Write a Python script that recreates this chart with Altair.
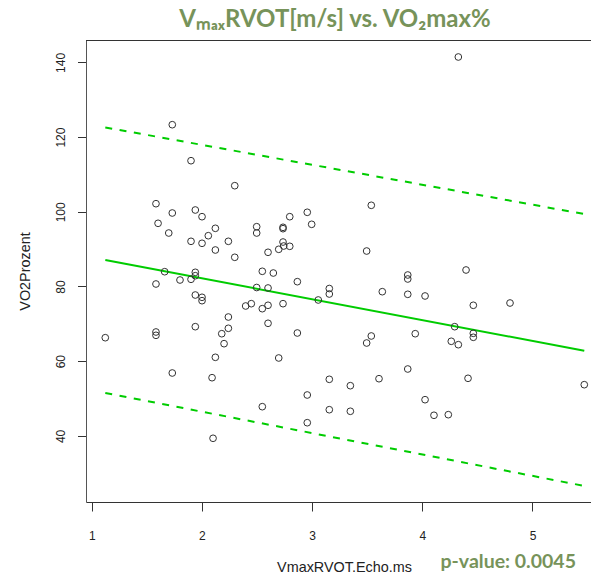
import altair as alt
import pandas as pd

# ---- data ----
vmax = [1.123, 1.583, 1.602, 1.583, 1.583, 1.583, 1.662, 1.699, 1.731, 1.731,
        1.731, 1.801, 1.901, 1.901, 1.901, 1.940, 1.940, 1.940, 1.940, 1.940,
        2.001, 2.001, 2.001, 2.001, 2.058, 2.092, 2.101, 2.122, 2.122, 2.122,
        2.180, 2.201, 2.240, 2.240, 2.240, 2.298, 2.298, 2.397, 2.448, 2.497,
        2.497, 2.497, 2.548, 2.548, 2.548, 2.600, 2.600, 2.600, 2.600, 2.648,
        2.697, 2.697, 2.736, 2.736, 2.736, 2.736, 2.797, 2.797, 2.866, 2.866,
        2.956, 2.956, 2.956, 2.996, 3.056, 3.156, 3.156, 3.156, 3.156, 3.347,
        3.347, 3.495, 3.495, 3.537, 3.537, 3.607, 3.637, 3.868, 3.868, 3.868,
        3.868, 3.936, 4.025, 4.025, 4.106, 4.236, 4.263, 4.294, 4.327, 4.327,
        4.397, 4.415, 4.463, 4.463, 4.463, 4.796, 5.470, 2.742]
vo2 = [66.29, 102.17, 96.92, 80.67, 67.82, 66.93, 83.96, 94.32, 99.68, 123.32,
       56.84, 81.74, 113.68, 92.10, 81.93, 100.48, 83.80, 82.89, 77.72, 69.24,
       98.69, 91.57, 77.11, 76.20, 93.60, 55.58, 39.36, 95.58, 89.77, 61.04,
       67.36, 64.69, 92.10, 71.83, 68.81, 106.99, 87.82, 74.78, 75.40, 96.01,
       94.32, 79.73, 84.07, 74.06, 47.82, 89.16, 79.60, 74.97, 70.15, 83.61,
       89.96, 60.86, 95.85, 95.48, 91.91, 75.40, 98.69, 90.76, 81.29, 67.55,
       99.87, 50.95, 43.53, 96.65, 76.39, 79.46, 77.99, 55.15, 47.01, 53.44,
       46.59, 89.50, 64.87, 101.74, 66.75, 55.31, 78.61, 83.08, 82.01, 77.91,
       57.91, 67.36, 77.46, 49.69, 45.52, 45.68, 65.33, 69.24, 141.45, 64.42,
       84.42, 55.42, 74.97, 67.47, 66.40, 75.58, 53.71, 90.84]

line_x = [1.123, 5.470]
fit_y = [87.1, 62.8]
upper_y = [122.6, 99.4]
lower_y = [51.5, 26.6]

x_ticks = [1, 2, 3, 4, 5]
y_ticks = [40, 60, 80, 100, 120, 140]

X_TITLE = "VmaxRVOT.Echo.ms"
Y_TITLE = "VO2Prozent"
MAIN_TITLE = "V\u2098\u2090\u2093RVOT[m/s] vs. VO\u2082max%"
P_TEXT = "p-value: 0.0045"

pts = pd.DataFrame({"vmax": vmax, "vo2": vo2})
fit = pd.DataFrame({"vmax": line_x, "vo2": fit_y})
band = pd.DataFrame({
    "vmax": line_x + line_x,
    "vo2": upper_y + lower_y,
    "band": ["upper"] * 2 + ["lower"] * 2,
})

W, H = 505, 462
GREEN = "#00CC00"
TITLE_GREEN = "#77935A"

xs = alt.Scale(domain=[0.948, 5.531], nice=False, zero=False)
ys = alt.Scale(domain=[22.3, 146.0], nice=False, zero=False)

x_axis = alt.Axis(
    values=x_ticks, format="d", title=X_TITLE, grid=False,
    domain=True, domainColor="#333333", tickColor="#333333", tickSize=9,
    labelFont="Liberation Sans", labelFontSize=12, labelColor="#222222",
    labelBaseline="alphabetic", labelPadding=28.5, labelFlush=False,
    titleFont="Liberation Sans", titleFontSize=14.4, titleFontWeight="normal",
    titleColor="#222222", titleX=258, titleY=69.7, titleBaseline="alphabetic",
    titleAlign="center",
)
y_axis = alt.Axis(
    values=y_ticks, format="d", title=Y_TITLE, grid=False,
    domain=True, domainColor="#555555", tickColor="#333333", tickSize=8.5,
    labelFont="Liberation Sans", labelFontSize=12, labelColor="#222222",
    labelAngle=270, labelAlign="center", labelBaseline="alphabetic",
    labelPadding=13, labelFlush=False,
    titleFont="Liberation Sans", titleFontSize=14.4, titleFontWeight="normal",
    titleColor="#222222", titleAngle=270, titleX=-61, titleY=231,
    titleBaseline="middle", titleAlign="center",
)

points = alt.Chart(pts).mark_point(
    shape="circle", filled=False, size=45, strokeWidth=1, color="#333333", opacity=1
).encode(
    x=alt.X("vmax:Q", scale=xs, axis=x_axis),
    y=alt.Y("vo2:Q", scale=ys, axis=y_axis),
)

fit_line = alt.Chart(fit).mark_line(color=GREEN, strokeWidth=2).encode(
    x=alt.X("vmax:Q", scale=xs, title=X_TITLE),
    y=alt.Y("vo2:Q", scale=ys, title=Y_TITLE),
)

band_lines = alt.Chart(band).mark_line(
    color=GREEN, strokeWidth=2, strokeDash=[7, 7.5]
).encode(
    x=alt.X("vmax:Q", scale=xs, title=X_TITLE),
    y=alt.Y("vo2:Q", scale=ys, title=Y_TITLE),
    detail="band:N",
)

one = alt.Data(values=[{}])
top_border = alt.Chart(one).mark_rule(color="#333333", strokeWidth=1).encode(
    x=alt.value(0), x2=alt.value(W), y=alt.value(0.5)
)


def txt(s, x, y, size, align="left"):
    return alt.Chart(one).mark_text(
        text=s, font="Lato", fontWeight="bold", fontSize=size,
        color=TITLE_GREEN, align=align, baseline="alphabetic",
    ).encode(x=alt.value(x), y=alt.value(y))


title_mark = txt(MAIN_TITLE, 249, -13, 24, align="center")
pval = txt(P_TEXT, 490, 527.5, 19.5, align="right")

chart = alt.layer(
    band_lines, fit_line, points, top_border, title_mark, pval
).properties(
    width=W, height=H,
    padding={"left": 86, "top": 40, "right": 0, "bottom": 78},
    autosize=alt.AutoSizeParams(type="none"),
).configure_view(stroke="transparent")

chart.save("out.html", embed_options={"renderer": "svg", "actions": False})
